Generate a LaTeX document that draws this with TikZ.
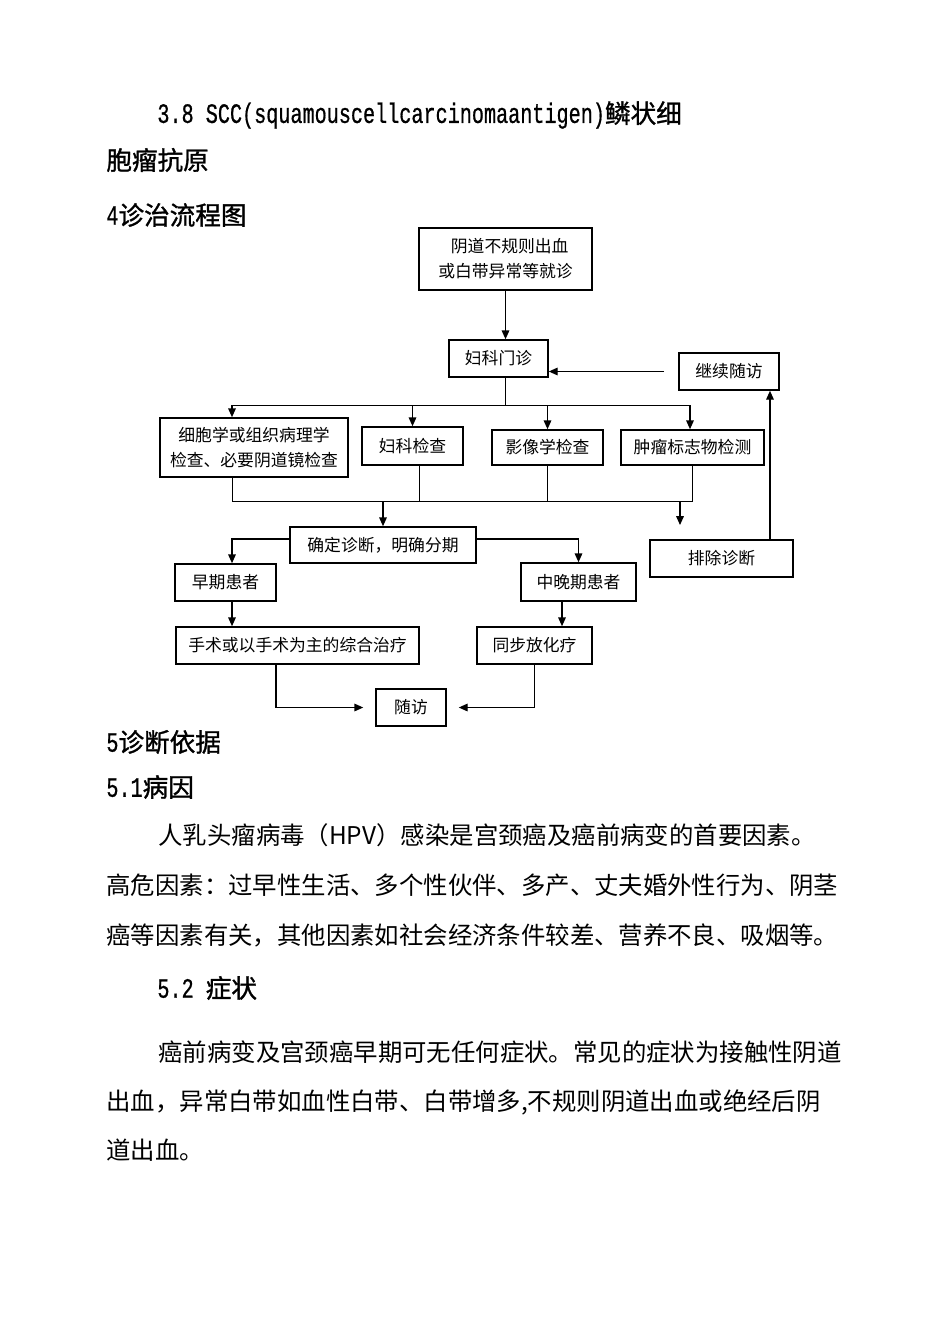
\documentclass[tikz,border=0pt]{standalone}
\usepackage{fontspec}
\usepackage{graphicx}
\usetikzlibrary{arrows.meta}
\newfontfamily\cjk{Noto Sans CJK SC}
\newfontfamily\cjkh[FakeBold=1.2]{Noto Sans CJK SC}
\newfontfamily\monof[FakeBold=0.8]{Liberation Mono}
\newcommand{\hnum}[1]{\scalebox{0.72}[1]{\monof\fontsize{14}{16}\selectfont #1}}

\begin{document}
\begin{tikzpicture}[x=0.5pt, y=-0.5pt,
  box/.style={draw, line width=0.8pt, inner sep=0pt, align=center,
    font=\cjk\fontsize{8.4}{12.5}\selectfont},
  arr/.style={line width=0.6pt, -{Triangle[length=4.4pt,width=3.8pt]}},
  ln/.style={line width=0.5pt},
  hd/.style={anchor=west, inner sep=0pt, font=\cjkh\fontsize{12.8}{15}\selectfont},
  txt/.style={anchor=west, inner sep=0pt, font=\cjk\fontsize{12.2}{15}\selectfont}]
  \useasboundingbox (0,0) rectangle (950,1344);

  \node[hd] (h38) at (157,115) {\hnum{3.8 SCC(squamouscellcarcinomaantigen)}鳞状细};
  \node[hd] (h38b) at (106,160) {胞瘤抗原};
  \node[hd] (h4) at (106,215) {\hnum{4}诊治流程图};

  \node[box, minimum width=86.5pt, minimum height=31pt] (start) at (505.5,259)
    {\hspace*{0.5em}阴道不规则出血\\或白带异常等就诊};
  \node[box, minimum width=49.5pt, minimum height=18.5pt] (gyn) at (498.5,358.5) {妇科门诊};
  \node[box, minimum width=50pt, minimum height=18.5pt] (follow) at (729,371.5) {继续随访};
  \node[box, minimum width=94pt, minimum height=29.5pt] (cyto) at (254,447.5)
    {细胞学或组织病理学\\检查、必要阴道镜检查};
  \node[box, minimum width=50.5pt, minimum height=19pt] (pelvic) at (412.5,446) {妇科检查};
  \node[box, minimum width=55.5pt, minimum height=17.5pt] (image) at (547.5,447.5) {影像学检查};
  \node[box, minimum width=71.5pt, minimum height=17.5pt] (marker) at (692.5,447.5) {肿瘤标志物检测};
  \node[box, minimum width=93pt, minimum height=18pt] (diag) at (383,545) {确定诊断，明确分期};
  \node[box, minimum width=71.5pt, minimum height=18.5pt] (exclude) at (721.5,558.5) {排除诊断};
  \node[box, minimum width=50.5pt, minimum height=18.5pt] (early) at (225.5,582.5) {早期患者};
  \node[box, minimum width=57.5pt, minimum height=19pt] (late) at (578.5,582) {中晚期患者};
  \node[box, minimum width=121.5pt, minimum height=18.5pt] (surgery) at (297.5,645.5) {手术或以手术为主的综合治疗};
  \node[box, minimum width=57.5pt, minimum height=18.5pt] (chemo) at (534.5,645.5) {同步放化疗};
  \node[box, minimum width=35pt, minimum height=18.5pt] (revisit) at (411,707.5) {随访};

  \coordinate (bus1w) at (232,405);
  \coordinate (bus1e) at (690,405);
  \coordinate (bus2w) at (232,501);
  \coordinate (bus2e) at (692,501);
  \coordinate (exin) at (680,525);
  \coordinate (pout) at ([xshift=3.25pt]pelvic.south);
  \coordinate (dw) at ([yshift=3pt]diag.west);
  \coordinate (de) at ([yshift=3pt]diag.east);
  \coordinate (ein) at ([xshift=3.25pt]early.north);
  \coordinate (eout) at ([xshift=3.25pt]early.south);
  \coordinate (lout) at ([xshift=-8.25pt]late.south);
  \coordinate (sout) at ([xshift=-10.75pt]surgery.south);
  \coordinate (exup) at ([xshift=24.25pt]exclude.north);

  \draw[arr] (start.south) -- (start.south |- gyn.north);
  \draw[arr, shorten <=7pt] (follow.west) -- (follow.west -| gyn.east);
  \draw[ln] (start.south |- gyn.south) -- (start.south |- bus1w);
  \draw[ln] (bus1w) -- (bus1e);
  \draw[arr] (bus1w) -- (bus1w |- cyto.north);
  \draw[arr] (pelvic.north |- bus1w) -- (pelvic.north);
  \draw[arr] (image.north |- bus1w) -- (image.north);
  \draw[arr] (bus1e) -- (bus1e |- marker.north);
  \draw[ln] (bus2w |- cyto.south) -- (bus2w) -- (bus2e) -- (bus2e |- marker.south);
  \draw[ln] (pout) -- (pout |- bus2w);
  \draw[ln] (image.south) -- (image.south |- bus2w);
  \draw[arr] (diag.north |- bus2w) -- (diag.north);
  \draw[arr] (exin |- bus2w) -- (exin);
  \draw[arr] (dw) -| (ein);
  \draw[arr] (de) -| (late.north);
  \draw[arr] (eout) -- (eout |- surgery.north);
  \draw[arr] (lout) -- (lout |- chemo.north);
  \draw[arr, shorten >=6pt] (sout) |- (revisit.west);
  \draw[arr, shorten >=6pt] (chemo.south) |- (revisit.east);
  \draw[arr] (exup) -- (exup |- follow.south);

  \node[hd] (h5) at (106,742) {\hnum{5}诊断依据};
  \node[hd] (h51) at (106,787) {\hnum{5.1}病因};
  \node[txt] (p1) at (158,835) {人乳头瘤病毒（HPV）感染是宫颈癌及癌前病变的首要因素。};
  \node[txt] (p2) at (106,885) {高危因素：过早性生活、多个性伙伴、多产、丈夫婚外性行为、阴茎};
  \node[txt] (p3) at (106,935) {癌等因素有关，其他因素如社会经济条件较差、营养不良、吸烟等。};
  \node[hd] (h52) at (157,988) {\hnum{5.2 }症状};
  \node[txt] (p4) at (158,1052) {癌前病变及宫颈癌早期可无任何症状。常见的症状为接触性阴道};
  \node[txt] (p5) at (106,1102) {出血，异常白带如血性白带、白带增多,不规则阴道出血或绝经后阴};
  \node[txt] (p6) at (106,1150) {道出血。};
\end{tikzpicture}
\end{document}
